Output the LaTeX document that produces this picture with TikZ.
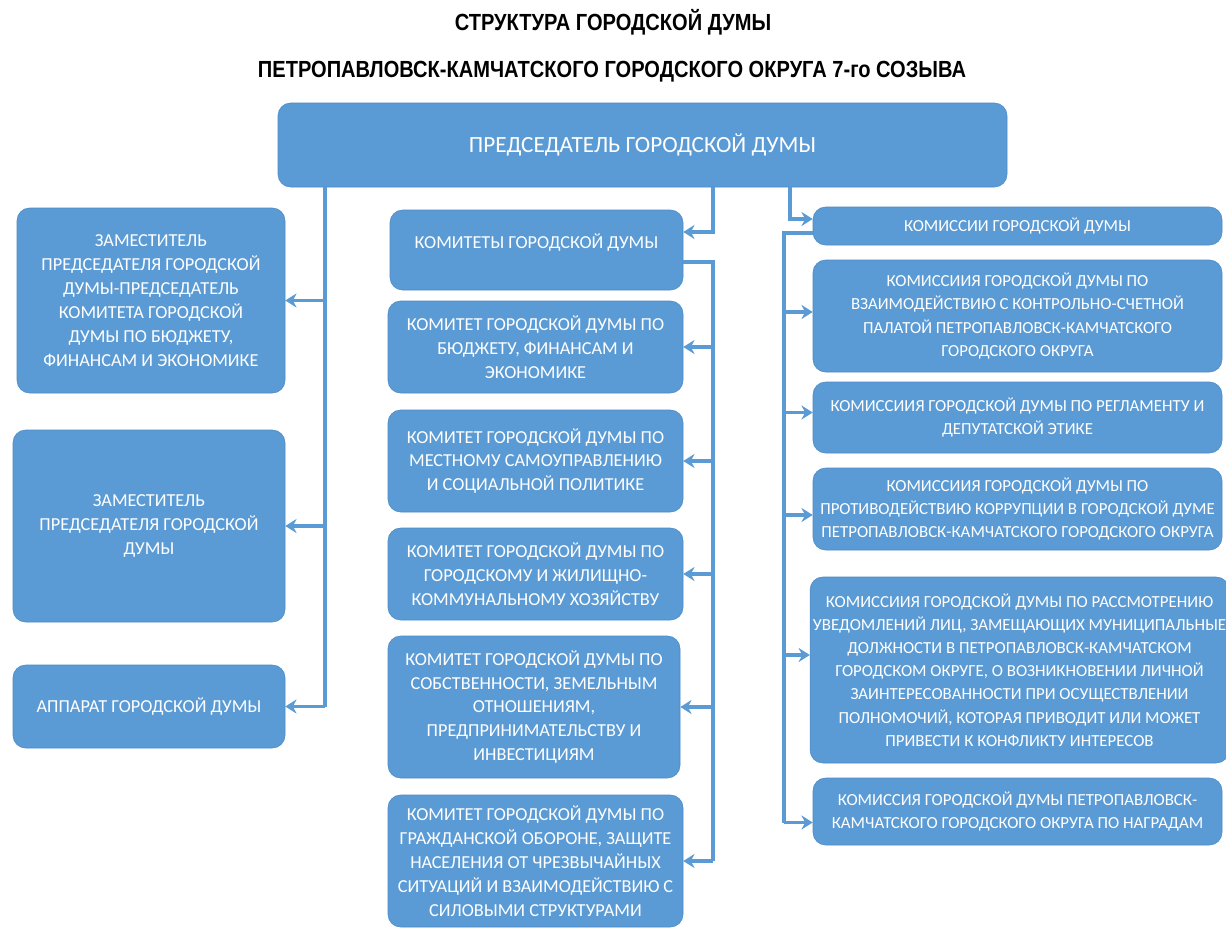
\documentclass[tikz,border=0pt]{standalone}
\usepackage{fontspec}
\setmainfont{Carlito}
\newfontfamily\titlefont[FakeStretch=0.86]{Liberation Sans}
\usetikzlibrary{arrows.meta, calc}

\definecolor{boxblue}{HTML}{5B9BD5}
\definecolor{boxedge}{HTML}{4A89C4}

\begin{document}
\begin{tikzpicture}[
            x = 0.025cm, y = -0.025cm, % one unit per pixel of the layout
            > = {Stealth[length=8pt, width=10pt]}, % arrow head style
            box/.style = {
                draw = boxedge,
                fill = boxblue,
                text = white,
                rounded corners = 9pt,
                align = center,
                inner sep = 2pt,
                font = \fontsize{13}{17}\selectfont
            },
            smallbox/.style = {
                box,
                font = \fontsize{12}{16.5}\selectfont
            },
            link/.style = {
                draw = boxblue,
                line width = 2.6pt
            }
        ]
        \useasboundingbox (0,0) rectangle (1226,928);

        % title
        \node (title1) at (613,22) {\titlefont\bfseries\fontsize{16.6}{18}\selectfont СТРУКТУРА ГОРОДСКОЙ ДУМЫ};
        \node (title2) at (612,72) {\titlefont\bfseries\fontsize{16.6}{18}\selectfont ПЕТРОПАВЛОВСК-КАМЧАТСКОГО ГОРОДСКОГО ОКРУГА 7-го СОЗЫВА};

        % chairman
        \node[box, minimum width=729*0.025cm, minimum height=84*0.025cm, font=\fontsize{16.5}{19}\selectfont] (chair) at (642.5,145) {ПРЕДСЕДАТЕЛЬ ГОРОДСКОЙ ДУМЫ};

        % left column
        \node[box, minimum width=268*0.025cm, minimum height=185*0.025cm] (dep1) at (151,300.5)
            {ЗАМЕСТИТЕЛЬ\\ПРЕДСЕДАТЕЛЯ ГОРОДСКОЙ\\ДУМЫ-ПРЕДСЕДАТЕЛЬ\\КОМИТЕТА ГОРОДСКОЙ\\ДУМЫ ПО БЮДЖЕТУ,\\ФИНАНСАМ И ЭКОНОМИКЕ};
        \node[box, minimum width=272*0.025cm, minimum height=192*0.025cm] (dep2) at (149,526)
            {ЗАМЕСТИТЕЛЬ\\ПРЕДСЕДАТЕЛЯ ГОРОДСКОЙ\\ДУМЫ};
        \node[box, minimum width=272*0.025cm, minimum height=83*0.025cm] (apparat) at (149,706.5)
            {АППАРАТ ГОРОДСКОЙ ДУМЫ};

        % committees
        \node[box, minimum width=293*0.025cm, minimum height=80*0.025cm, text depth=12pt] (komitety) at (536.5,250)
            {КОМИТЕТЫ ГОРОДСКОЙ ДУМЫ};
        \node[box, minimum width=295*0.025cm, minimum height=92*0.025cm] (kom1) at (535.5,347)
            {КОМИТЕТ ГОРОДСКОЙ ДУМЫ ПО\\БЮДЖЕТУ, ФИНАНСАМ И\\ЭКОНОМИКЕ};
        \node[box, minimum width=295*0.025cm, minimum height=102*0.025cm] (kom2) at (535.5,461)
            {КОМИТЕТ ГОРОДСКОЙ ДУМЫ ПО\\МЕСТНОМУ САМОУПРАВЛЕНИЮ\\И СОЦИАЛЬНОЙ ПОЛИТИКЕ};
        \node[box, minimum width=295*0.025cm, minimum height=92*0.025cm] (kom3) at (535.5,574)
            {КОМИТЕТ ГОРОДСКОЙ ДУМЫ ПО\\ГОРОДСКОМУ И ЖИЛИЩНО-\\КОММУНАЛЬНОМУ ХОЗЯЙСТВУ};
        \node[box, minimum width=292*0.025cm, minimum height=142*0.025cm] (kom4) at (534,707)
            {КОМИТЕТ ГОРОДСКОЙ ДУМЫ ПО\\СОБСТВЕННОСТИ, ЗЕМЕЛЬНЫМ\\ОТНОШЕНИЯМ,\\ПРЕДПРИНИМАТЕЛЬСТВУ И\\ИНВЕСТИЦИЯМ};
        \node[box, minimum width=295*0.025cm, minimum height=132*0.025cm] (kom5) at (535.5,861)
            {КОМИТЕТ ГОРОДСКОЙ ДУМЫ ПО\\ГРАЖДАНСКОЙ ОБОРОНЕ, ЗАЩИТЕ\\НАСЕЛЕНИЯ ОТ ЧРЕЗВЫЧАЙНЫХ\\СИТУАЦИЙ И ВЗАИМОДЕЙСТВИЮ С\\СИЛОВЫМИ СТРУКТУРАМИ};

        % commissions
        \node[smallbox, minimum width=409*0.025cm, minimum height=38*0.025cm] (komissii) at (1017.5,226)
            {КОМИССИИ ГОРОДСКОЙ ДУМЫ};
        \node[smallbox, minimum width=409*0.025cm, minimum height=112*0.025cm] (kms1) at (1017.5,316)
            {КОМИССИИЯ ГОРОДСКОЙ ДУМЫ ПО\\ВЗАИМОДЕЙСТВИЮ С КОНТРОЛЬНО-СЧЕТНОЙ\\ПАЛАТОЙ ПЕТРОПАВЛОВСК-КАМЧАТСКОГО\\ГОРОДСКОГО ОКРУГА};
        \node[smallbox, minimum width=409*0.025cm, minimum height=71*0.025cm] (kms2) at (1017.5,417.5)
            {КОМИССИИЯ ГОРОДСКОЙ ДУМЫ ПО РЕГЛАМЕНТУ И\\ДЕПУТАТСКОЙ ЭТИКЕ};
        \node[smallbox, minimum width=409*0.025cm, minimum height=82*0.025cm] (kms3) at (1017.5,509)
            {КОМИССИИЯ ГОРОДСКОЙ ДУМЫ ПО\\ПРОТИВОДЕЙСТВИЮ КОРРУПЦИИ В ГОРОДСКОЙ ДУМЕ\\ПЕТРОПАВЛОВСК-КАМЧАТСКОГО ГОРОДСКОГО ОКРУГА};
        \node[smallbox, minimum width=413*0.025cm, minimum height=186*0.025cm] (kms4) at (1019.5,670)
            {КОМИССИИЯ ГОРОДСКОЙ ДУМЫ ПО РАССМОТРЕНИЮ\\УВЕДОМЛЕНИЙ ЛИЦ, ЗАМЕЩАЮЩИХ МУНИЦИПАЛЬНЫЕ\\ДОЛЖНОСТИ В ПЕТРОПАВЛОВСК-КАМЧАТСКОМ\\ГОРОДСКОМ ОКРУГЕ, О ВОЗНИКНОВЕНИИ ЛИЧНОЙ\\ЗАИНТЕРЕСОВАННОСТИ ПРИ ОСУЩЕСТВЛЕНИИ\\ПОЛНОМОЧИЙ, КОТОРАЯ ПРИВОДИТ ИЛИ МОЖЕТ\\ПРИВЕСТИ К КОНФЛИКТУ ИНТЕРЕСОВ};
        \node[smallbox, minimum width=409*0.025cm, minimum height=67*0.025cm] (kms5) at (1017.5,811.5)
            {КОМИССИЯ ГОРОДСКОЙ ДУМЫ ПЕТРОПАВЛОВСК-\\КАМЧАТСКОГО ГОРОДСКОГО ОКРУГА ПО НАГРАДАМ};

        % bus lines
        \coordinate (lx) at (325,0);
        \coordinate (mx) at (713,0);
        \coordinate (rx) at (790,0);
        \coordinate (rxb) at (784,0);

        % left branch
        \draw[link] (chair.south -| lx) -- (lx |- apparat);
        \foreach \n in {dep1, dep2, apparat}
            \draw[link, ->] (lx |- \n) -- (\n.east);

        % committees branch
        \draw[link, ->] (chair.south -| mx) |- ($(komitety.east)+(0,-18)$);
        \draw[link] ($(komitety.east)+(0,12)$) -| (mx |- kom5);
        \foreach \n in {kom1, kom2, kom3, kom4, kom5}
            \draw[link, ->] (mx |- \n) -- (\n.east);

        % commissions branch
        \draw[link, ->] (chair.south -| rx) |- ($(komissii.west)+(0,-7)$);
        \draw[link] ($(komissii.west)+(0,7)$) -| ($(rxb |- kms5)+(0,11)$);
        \foreach \n/\dy in {kms1/-4, kms2/-5, kms3/6, kms4/-15, kms5/11}
            \draw[link, ->] ($(rxb |- \n)+(0,\dy)$) -- ($(\n.west)+(0,\dy)$);
\end{tikzpicture}
\end{document}
